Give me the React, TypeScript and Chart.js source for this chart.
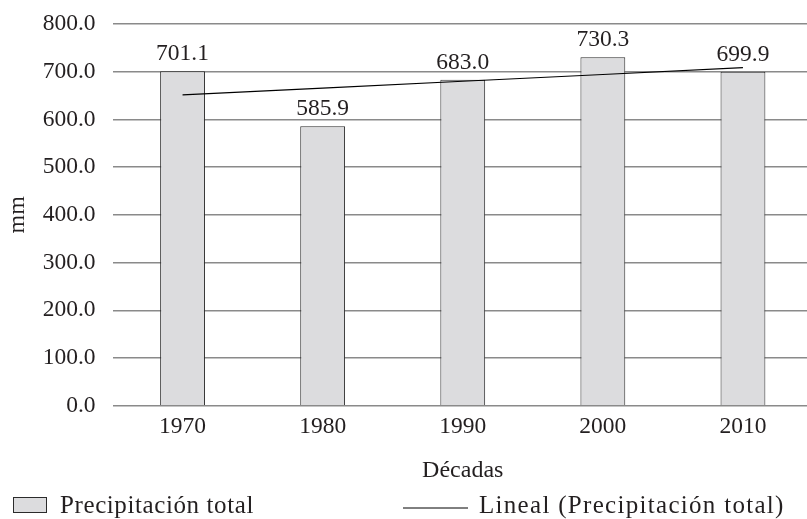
import React, { useEffect, useRef } from "react";
import { Chart, registerables } from "chart.js";

Chart.register(...registerables);

// Decades on the x axis and total precipitation (mm) per decade
const decades = ["1970", "1980", "1990", "2000", "2010"];
const precipitation = [701.1, 585.9, 683.0, 730.3, 699.9];
// Linear trend of the total precipitation
const trendValues = [651.6, 665.8, 680.0, 694.2, 708.4];

const barLabel = "Precipitación total";
const trendLabel = "Lineal (Precipitación total)";
const xTitle = "Décadas";
const yTitle = "mm";

const FONT = "'Liberation Serif', 'Times New Roman', serif";
const TEXT = "#231f20";
const BAR_FILL = "#dcdcde";
const BAR_EDGE = "#2b2b2b";
const GRID = "#8a8a8a";
const TICK_SIZE = 23.5;

// Value labels above each bar
const valueLabels = {
  id: "valueLabels",
  afterDatasetsDraw(chart: any) {
    const ctx = chart.ctx;
    const meta = chart.getDatasetMeta(0);
    ctx.save();
    ctx.font = `${TICK_SIZE}px ${FONT}`;
    ctx.fillStyle = TEXT;
    ctx.textAlign = "center";
    ctx.textBaseline = "alphabetic";
    meta.data.forEach((bar: any, i: number) => {
      ctx.fillText(precipitation[i].toFixed(1), bar.x, bar.y - 11);
    });
    ctx.restore();
  },
};

// Legend drawn along the bottom edge
const bottomLegend = {
  id: "bottomLegend",
  afterDraw(chart: any) {
    const ctx = chart.ctx;
    ctx.save();
    ctx.font = `25px ${FONT}`;
    ctx.textBaseline = "alphabetic";
    ctx.textAlign = "left";

    ctx.fillStyle = BAR_FILL;
    ctx.fillRect(13.5, 497.5, 33, 15);
    ctx.strokeStyle = BAR_EDGE;
    ctx.lineWidth = 1;
    ctx.strokeRect(13.5, 497.5, 33, 15);
    ctx.fillStyle = TEXT;
    (ctx as any).letterSpacing = "0.6px";
    ctx.fillText(barLabel, 60, 513);

    ctx.strokeStyle = "#000";
    ctx.beginPath();
    ctx.moveTo(403, 508);
    ctx.lineTo(468, 508);
    ctx.stroke();
    (ctx as any).letterSpacing = "1.3px";
    ctx.fillText(trendLabel, 479, 513);
    ctx.restore();
  },
};

export default function App() {
  const canvasRef = useRef<HTMLCanvasElement | null>(null);

  useEffect(() => {
    if (!canvasRef.current) return;
    const chart = new Chart(canvasRef.current, {
      type: "bar",
      data: {
        labels: decades,
        datasets: [
          {
            type: "bar",
            label: barLabel,
            data: precipitation,
            backgroundColor: BAR_FILL,
            borderColor: BAR_EDGE,
            borderWidth: 1,
            categoryPercentage: 1,
            barPercentage: 0.32,
            order: 1,
          },
          {
            type: "line",
            label: trendLabel,
            data: trendValues,
            borderColor: "#000",
            borderWidth: 1.2,
            pointRadius: 0,
            fill: false,
            tension: 0,
            order: 0,
          },
        ],
      },
      options: {
        responsive: false,
        animation: false,
        layout: { padding: { top: 24, right: 0, bottom: 0, left: 0 } },
        plugins: {
          legend: { display: false },
          tooltip: { enabled: false },
        },
        scales: {
          x: {
            offset: true,
            grid: { display: false, drawTicks: false },
            border: { display: false },
            ticks: {
              color: TEXT,
              font: { family: FONT, size: TICK_SIZE },
              padding: 7,
              maxRotation: 0,
            },
            title: {
              display: true,
              text: xTitle,
              color: TEXT,
              font: { family: FONT, size: 24 },
              padding: { top: 0, bottom: 34 },
            },
            afterFit(scale: any) {
              scale.height = 113.3;
            },
          },
          y: {
            min: 0,
            max: 800,
            ticks: {
              stepSize: 100,
              color: TEXT,
              font: { family: FONT, size: TICK_SIZE },
              padding: 17,
              callback: (v: any) => Number(v).toFixed(1),
            },
            grid: { color: GRID, lineWidth: 1.5, drawTicks: false },
            border: { display: false },
            title: {
              display: true,
              text: yTitle,
              color: TEXT,
              font: { family: FONT, size: 24 },
              padding: { top: 3, bottom: 0 },
            },
            afterFit(scale: any) {
              scale.width = 112.5;
              scale.paddingTop = 0;
              scale.paddingBottom = 0;
            },
          },
        },
      },
      plugins: [valueLabels, bottomLegend],
    });
    return () => chart.destroy();
  }, []);

  return (
    <div
      style={{
        position: "absolute",
        left: 0,
        top: 0,
        width: 807,
        height: 519,
        overflow: "hidden",
        background: "#fff",
      }}
    >
      <canvas ref={canvasRef} width={813} height={519} style={{ display: "block" }} />
    </div>
  );
}
